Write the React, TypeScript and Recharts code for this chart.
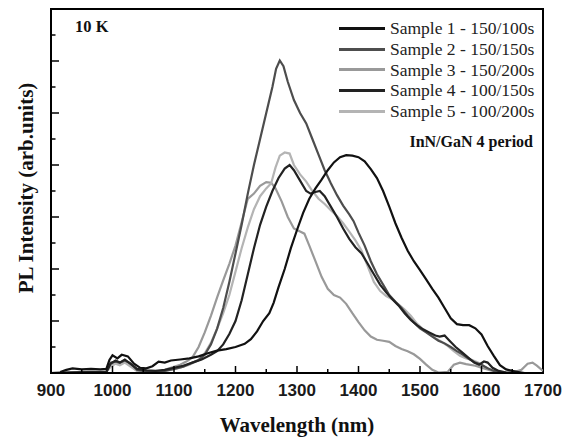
import React from "react";
import {
  LineChart,
  Line,
  XAxis,
  YAxis,
  ReferenceArea,
} from "recharts";

// wavelength (nm), PL intensity (arb. units)
const sample1: [number, number][] = [
  [915, 0.02], [925, 0.06], [935, 0.09], [950, 0.07], [965, 0.08], [980, 0.07], [990, 0.08],
  [995, 0.25], [1000, 0.34], [1008, 0.28], [1015, 0.35], [1025, 0.32], [1035, 0.18], [1045, 0.1],
  [1055, 0.09], [1065, 0.13], [1075, 0.22], [1085, 0.2], [1095, 0.24], [1110, 0.26], [1125, 0.28],
  [1140, 0.32], [1155, 0.38], [1170, 0.43], [1185, 0.46], [1200, 0.5], [1215, 0.56], [1225, 0.65],
  [1235, 0.8], [1245, 1.0], [1255, 1.15], [1262, 1.35], [1270, 1.65], [1280, 2.0], [1290, 2.4],
  [1300, 2.75], [1310, 3.08], [1320, 3.35], [1330, 3.55], [1340, 3.72], [1350, 3.9], [1360, 4.05],
  [1370, 4.15], [1380, 4.19], [1390, 4.18], [1400, 4.15], [1410, 4.07], [1420, 3.92], [1430, 3.75],
  [1440, 3.5], [1450, 3.2], [1460, 2.88], [1470, 2.6], [1480, 2.35], [1490, 2.15], [1500, 1.98],
  [1510, 1.8], [1520, 1.62], [1530, 1.45], [1540, 1.25], [1550, 1.05], [1560, 0.94], [1570, 0.92],
  [1580, 0.92], [1590, 0.86], [1600, 0.74], [1610, 0.52], [1620, 0.33], [1630, 0.15], [1640, 0.07],
  [1650, 0.04], [1660, 0.02], [1670, 0],
];

const sample2: [number, number][] = [
  [900, 0], [930, 0.01], [960, 0.02], [990, 0.02], [997, 0.2], [1005, 0.22], [1012, 0.2],
  [1020, 0.24], [1030, 0.18], [1040, 0.06], [1055, 0.03], [1070, 0.02], [1085, 0.04], [1100, 0.08],
  [1115, 0.12], [1130, 0.2], [1140, 0.25], [1150, 0.35], [1160, 0.55], [1170, 0.85], [1180, 1.25],
  [1190, 1.75], [1200, 2.3], [1210, 2.85], [1220, 3.45], [1230, 4.0], [1240, 4.5], [1250, 5.0],
  [1260, 5.5], [1266, 5.85], [1272, 6.01], [1278, 5.9], [1285, 5.6], [1295, 5.25], [1305, 5.0],
  [1315, 4.8], [1325, 4.5], [1335, 4.2], [1345, 3.9], [1355, 3.65], [1365, 3.42], [1375, 3.22],
  [1385, 3.05], [1392, 2.92], [1400, 2.7], [1410, 2.45], [1420, 2.15], [1430, 1.9], [1440, 1.7],
  [1450, 1.5], [1460, 1.37], [1470, 1.25], [1480, 1.1], [1490, 0.97], [1500, 0.86], [1510, 0.78],
  [1520, 0.7], [1530, 0.62], [1540, 0.57], [1550, 0.5], [1560, 0.42], [1570, 0.35], [1580, 0.27],
  [1590, 0.2], [1600, 0.16], [1610, 0.09], [1620, 0.04], [1630, 0.02], [1640, 0],
];

const sample3: [number, number][] = [
  [900, 0], [940, 0.01], [990, 0.02], [997, 0.15], [1005, 0.22], [1012, 0.18], [1020, 0.22],
  [1030, 0.14], [1040, 0.04], [1060, 0.02], [1080, 0.04], [1090, 0.08], [1100, 0.12], [1110, 0.16],
  [1120, 0.22], [1130, 0.3], [1140, 0.5], [1150, 0.78], [1160, 1.1], [1170, 1.45], [1180, 1.78],
  [1190, 2.1], [1200, 2.45], [1210, 2.9], [1220, 3.35], [1230, 3.45], [1240, 3.6], [1250, 3.67],
  [1258, 3.66], [1265, 3.55], [1275, 3.3], [1285, 3.0], [1295, 2.78], [1305, 2.72], [1312, 2.68],
  [1320, 2.45], [1330, 2.15], [1340, 1.85], [1350, 1.62], [1360, 1.5], [1370, 1.45], [1380, 1.33],
  [1390, 1.15], [1400, 0.98], [1410, 0.82], [1420, 0.7], [1430, 0.64], [1440, 0.62], [1450, 0.6],
  [1460, 0.52], [1470, 0.46], [1480, 0.42], [1490, 0.36], [1500, 0.27], [1510, 0.16], [1520, 0.06],
  [1530, 0.01], [1545, 0.02], [1555, 0.16], [1565, 0.2], [1575, 0.17], [1590, 0.14], [1600, 0.1],
  [1615, 0.05], [1630, 0.02], [1650, 0.01], [1665, 0.06], [1675, 0.18], [1683, 0.2], [1690, 0.14],
  [1700, 0.04],
];

const sample4: [number, number][] = [
  [900, 0], [930, 0.01], [990, 0.02], [997, 0.18], [1005, 0.24], [1012, 0.2], [1020, 0.26],
  [1030, 0.17], [1040, 0.08], [1055, 0.05], [1070, 0.04], [1085, 0.06], [1100, 0.1], [1115, 0.14],
  [1130, 0.2], [1145, 0.26], [1160, 0.35], [1170, 0.42], [1180, 0.55], [1190, 0.75], [1200, 1.0],
  [1210, 1.4], [1220, 1.9], [1230, 2.4], [1240, 2.85], [1250, 3.2], [1260, 3.5], [1270, 3.75],
  [1280, 3.93], [1288, 4.0], [1295, 3.9], [1305, 3.7], [1315, 3.5], [1322, 3.45], [1330, 3.48],
  [1337, 3.5], [1345, 3.4], [1355, 3.2], [1365, 3.0], [1375, 2.78], [1385, 2.58], [1395, 2.42],
  [1405, 2.3], [1415, 2.1], [1425, 1.9], [1435, 1.7], [1445, 1.55], [1455, 1.42], [1465, 1.3],
  [1475, 1.15], [1485, 1.02], [1495, 0.92], [1505, 0.84], [1515, 0.78], [1525, 0.72], [1532, 0.7],
  [1540, 0.72], [1548, 0.62], [1558, 0.5], [1568, 0.4], [1578, 0.3], [1588, 0.2], [1596, 0.16],
  [1604, 0.22], [1610, 0.2], [1618, 0.1], [1628, 0.04], [1640, 0.01], [1650, 0],
];

const sample5: [number, number][] = [
  [900, 0], [940, 0.01], [990, 0.02], [997, 0.12], [1005, 0.18], [1012, 0.15], [1020, 0.2],
  [1030, 0.12], [1040, 0.04], [1060, 0.02], [1080, 0.03], [1095, 0.06], [1110, 0.1], [1125, 0.16],
  [1140, 0.25], [1150, 0.38], [1160, 0.58], [1170, 0.85], [1180, 1.15], [1190, 1.5], [1200, 1.95],
  [1210, 2.4], [1220, 2.8], [1230, 3.15], [1240, 3.4], [1250, 3.55], [1258, 3.65], [1265, 3.95],
  [1272, 4.18], [1280, 4.24], [1288, 4.22], [1295, 4.0], [1305, 3.82], [1315, 3.68], [1325, 3.5],
  [1335, 3.35], [1345, 3.25], [1355, 3.13], [1365, 3.02], [1375, 2.88], [1385, 2.72], [1395, 2.55],
  [1405, 2.35], [1415, 2.05], [1425, 1.75], [1435, 1.58], [1445, 1.48], [1455, 1.42], [1465, 1.32],
  [1475, 1.22], [1485, 1.1], [1495, 0.95], [1505, 0.84], [1515, 0.75], [1525, 0.67], [1535, 0.6],
  [1545, 0.52], [1555, 0.42], [1565, 0.33], [1575, 0.28], [1585, 0.25], [1595, 0.2], [1605, 0.12],
  [1615, 0.06], [1630, 0.02], [1650, 0],
];

const SERIES = [
  { name: "Sample 1 - 150/100s", color: "#111111", points: sample1 },
  { name: "Sample 2 - 150/150s", color: "#4d4d4d", points: sample2 },
  { name: "Sample 3 - 150/200s", color: "#999999", points: sample3 },
  { name: "Sample 4 - 100/150s", color: "#222222", points: sample4 },
  { name: "Sample 5 - 100/200s", color: "#b4b4b4", points: sample5 },
];

// draw order (bottom first)
const DRAW_ORDER = [2, 4, 1, 3, 0];

const WAVELENGTH_TICKS = [
  900, 950, 1000, 1050, 1100, 1150, 1200, 1250, 1300, 1350, 1400, 1450, 1500, 1550, 1600, 1650, 1700,
];
const INTENSITY_TICKS = [0.5, 1, 1.5, 2, 2.5, 3, 3.5, 4, 4.5, 5, 5.5, 6, 6.5];
const X_DOMAIN = [900, 1700];
const Y_DOMAIN = [0, 7];

const W = 573;
const H = 439;
const PLOT_LEFT = 51;
const PLOT_BOTTOM = 373;
const SERIF = "'Liberation Serif', 'Times New Roman', serif";
const SANS = "'Liberation Sans', Arial, sans-serif";

function XTick(props: any) {
  const { x, payload } = props;
  const v = payload.value as number;
  const major = v % 100 === 0;
  return (
    <g>
      {v > 900 && v < 1700 && (
        <line x1={x} x2={x} y1={PLOT_BOTTOM} y2={PLOT_BOTTOM - (major ? 7 : 4)} stroke="#000" strokeWidth={1.5} />
      )}
      {major && (
        <text x={x} y={PLOT_BOTTOM + 23} textAnchor="middle" fontFamily={SANS} fontSize={17} fontWeight="bold" fill="#1a1a1a">
          {v}
        </text>
      )}
    </g>
  );
}

function YTick(props: any) {
  const { y, payload } = props;
  const major = Number.isInteger(payload.value);
  return (
    <line x1={PLOT_LEFT} x2={PLOT_LEFT + (major ? 8 : 4.5)} y1={y} y2={y} stroke="#000" strokeWidth={1.5} />
  );
}

function YLabel(props: any) {
  const { viewBox } = props;
  const cy = viewBox.y + viewBox.height / 2 - 3;
  return (
    <text
      x={26}
      y={cy}
      transform={`rotate(-90 26 ${cy})`}
      textAnchor="middle"
      dominantBaseline="central"
      fontFamily={SERIF}
      fontWeight="bold"
      fontSize={21}
      fill="#111"
    >
      PL Intensity (arb.units)
    </text>
  );
}

function LegendBox() {
  return (
    <div
      style={{
        position: "absolute",
        left: 339,
        top: 18,
        fontFamily: SERIF,
        fontSize: 17.5,
        color: "#222",
      }}
    >
      {SERIES.map((s) => (
        <div key={s.name} style={{ display: "flex", alignItems: "center", height: 20.8 }}>
          <span style={{ width: 46, borderTop: `3px solid ${s.color}`, marginRight: 5 }} />
          <span style={{ whiteSpace: "nowrap" }}>{s.name}</span>
        </div>
      ))}
    </div>
  );
}

export default function App() {
  return (
    <div style={{ position: "absolute", left: 0, top: 0, width: W, height: H, background: "#fff" }}>
      <LineChart width={W} height={H} margin={{ top: 9, right: 30, bottom: 0, left: 0 }}>
        <XAxis
          dataKey="nm"
          type="number"
          domain={X_DOMAIN}
          ticks={WAVELENGTH_TICKS}
          interval={0}
          height={66}
          axisLine={{ stroke: "#000", strokeWidth: 2 }}
          tickLine={false}
          tick={<XTick />}
          label={{
            value: "Wavelength (nm)",
            position: "insideBottom",
            offset: 7,
            fontFamily: SERIF,
            fontWeight: "bold",
            fontSize: 21,
            fill: "#111",
          }}
          allowDataOverflow
        />
        <YAxis
          type="number"
          domain={Y_DOMAIN}
          ticks={INTENSITY_TICKS}
          interval={0}
          width={PLOT_LEFT}
          axisLine={{ stroke: "#000", strokeWidth: 2 }}
          tickLine={false}
          tick={<YTick />}
          label={<YLabel />}
          allowDataOverflow
        />
        <ReferenceArea
          x1={X_DOMAIN[0]}
          x2={X_DOMAIN[1]}
          y1={Y_DOMAIN[0]}
          y2={Y_DOMAIN[1]}
          fill="none"
          stroke="#000"
          strokeWidth={2}
          ifOverflow="visible"
        />
        {DRAW_ORDER.map((i) => {
          const s = SERIES[i];
          return (
            <Line
              key={s.name}
              name={s.name}
              data={s.points.map(([nm, v]) => ({ nm, v }))}
              dataKey="v"
              type="linear"
              stroke={s.color}
              strokeWidth={2.2}
              dot={false}
              activeDot={false}
              isAnimationActive={false}
            />
          );
        })}
      </LineChart>
      <LegendBox />
      <div
        style={{
          position: "absolute",
          left: 75,
          top: 17,
          fontFamily: SERIF,
          fontWeight: "bold",
          fontSize: 16.5,
          color: "#111",
        }}
      >
        10 K
      </div>
      <div
        style={{
          position: "absolute",
          right: 40,
          top: 133,
          fontFamily: SERIF,
          fontWeight: "bold",
          fontSize: 16,
          color: "#111",
          whiteSpace: "nowrap",
        }}
      >
        InN/GaN 4 period
      </div>
    </div>
  );
}
